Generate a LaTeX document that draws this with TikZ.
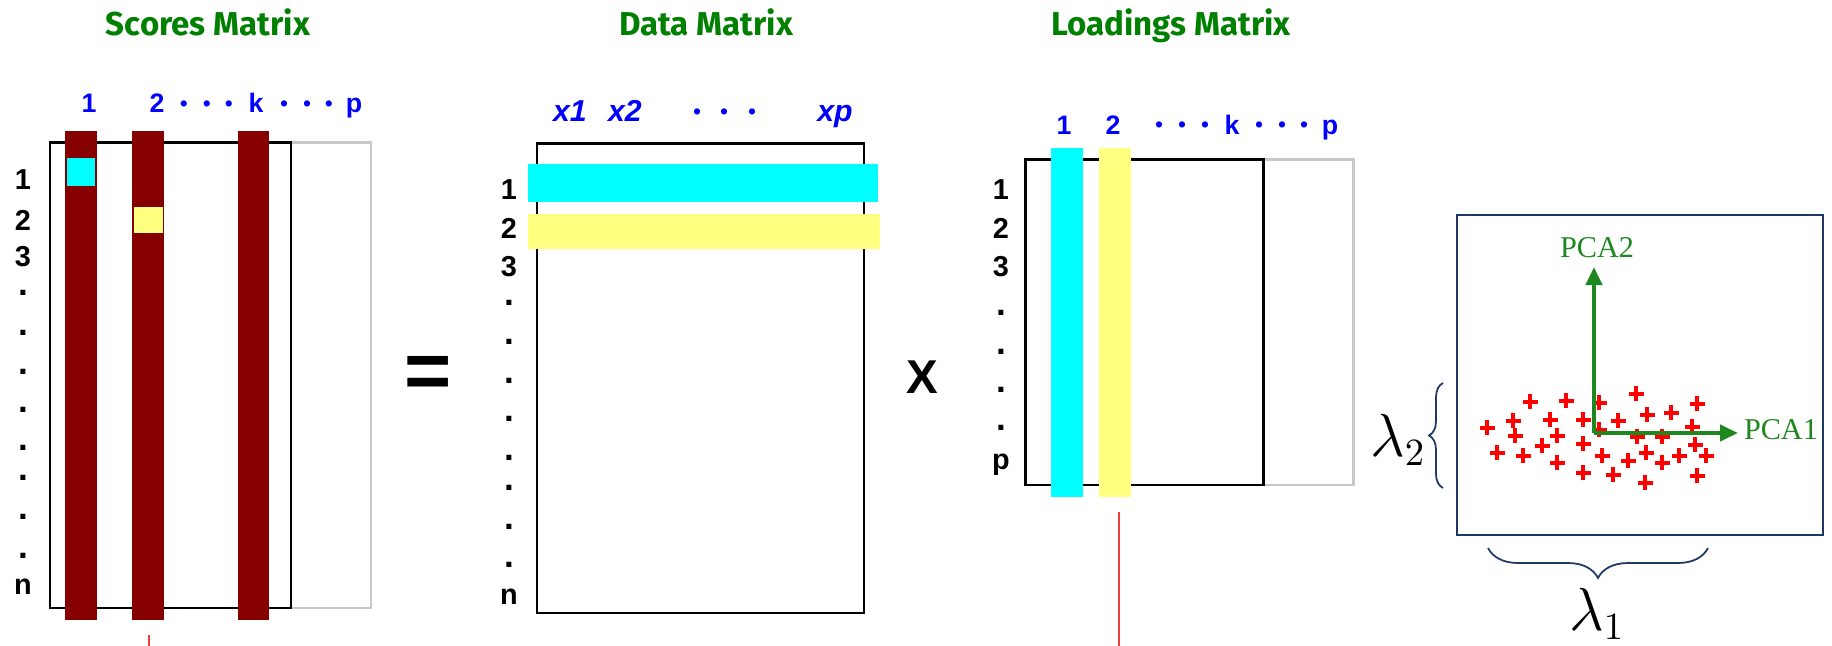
\documentclass[tikz,border=0pt]{standalone}
\usepackage{fontspec}
\setmainfont{Liberation Sans}
\newfontfamily\titlefont{Fira Sans}
\newfontfamily\pcafont{Liberation Serif}
\usetikzlibrary{arrows.meta,decorations.pathreplacing}
\definecolor{barred}{RGB}{134,0,0}
\definecolor{mycyan}{RGB}{0,255,255}
\definecolor{myyellow}{RGB}{255,255,128}
\definecolor{titlegreen}{RGB}{0,128,0}
\definecolor{pcagreen}{RGB}{30,135,30}
\definecolor{navy}{RGB}{31,56,100}
\definecolor{lgray}{RGB}{200,200,200}
\definecolor{linered}{RGB}{240,60,60}
\tikzset{
  titlelab/.style={anchor=base,text=titlegreen,font=\titlefont\bfseries\fontsize{9.4}{10}\selectfont},
  collab/.style={anchor=base,text=blue,font=\bfseries\fontsize{7.6}{8}\selectfont},
  xlab/.style={anchor=base,text=blue,font=\bfseries\itshape\fontsize{8.6}{9}\selectfont},
  bluedot/.style={text=blue,font=\fontsize{6.5}{7}\selectfont},
  rowlab/.style={font=\bfseries\fontsize{8.2}{9}\selectfont},
  rowdot/.style={font=\bfseries\fontsize{10}{10}\selectfont},
  matbox/.style={draw=black,line width=0.85pt},
  greybox/.style={draw=lgray,line width=0.85pt},
  pcaarrow/.style={draw=pcagreen,line width=1.15pt,-{Triangle[length=0.18cm,width=0.16cm]}},
  pcalab/.style={text=pcagreen,font=\pcafont\fontsize{8.6}{9}\selectfont},
  bracelab/.style={font=\fontsize{16}{18}\selectfont},
  navybrace/.style={draw=navy,line width=0.5pt,decorate},
  cross/.style={draw=red,line width=1.3pt},
  redline/.style={draw=linered,line width=0.5pt}
}
\begin{document}
\begin{tikzpicture}[x=0.01cm,y=-0.01cm,every node/.style={inner sep=0pt,outer sep=0pt}]
\useasboundingbox (0,0) rectangle (1832,646);

% ---------------- Scores matrix ----------------
\node[titlelab] (t-scores) at (208,36) {Scores Matrix};
\draw[greybox] (291,143) rectangle (371,608);
\draw[matbox] (50,143) rectangle (291,608);
\fill[barred] (65,131) rectangle (97,620);
\fill[barred] (132,131) rectangle (164,620);
\fill[barred] (238,131) rectangle (269,620);
\fill[mycyan] (67,158) rectangle (95,186);
\fill[myyellow] (134,207) rectangle (163,233);
\node[collab] (sc-c1) at (89,113) {1};
\node[collab] (sc-c2) at (157,113) {2};
\node[collab] (sc-ck) at (256,113) {k};
\node[collab] (sc-cp) at (354,113) {p};
\foreach \x [count=\i] in {184,207,229,284,307,329}
  \node[bluedot] (sc-d\i) at (\x,106) {•};
\node[rowlab] (sc-r1) at (23,180) {1};
\node[rowlab] (sc-r2) at (23,220) {2};
\node[rowlab] (sc-r3) at (23,257) {3};
\foreach \y [count=\i] in {293,333,372,410,448,478,517,556}
  \node[rowdot] (sc-rd\i) at (23,\y) {.};
\node[rowlab] (sc-rn) at (23,587) {n};
\coordinate (sc-l1) at (149,635);
\coordinate (sc-l2) at (149,646);
\draw[redline] (sc-l1) -- (sc-l2);

% ---------------- equals ----------------
\node[font=\bfseries\fontsize{23}{24}\selectfont] (eq) at (428,377) {=};

% ---------------- Data matrix ----------------
\node[titlelab] (t-data) at (706,36) {Data Matrix};
\draw[matbox] (537,144) rectangle (864,613);
\fill[mycyan] (528,164) rectangle (878,202);
\fill[myyellow] (528,214) rectangle (880,249);
\node[xlab] (da-x1) at (570,122) {x1};
\node[xlab] (da-x2) at (625,122) {x2};
\node[xlab] (da-xp) at (835,122) {xp};
\foreach \x [count=\i] in {697,724,752}
  \node[bluedot] (da-d\i) at (\x,114) {•};
\node[rowlab] (da-r1) at (509,190) {1};
\node[rowlab] (da-r2) at (509,228) {2};
\node[rowlab] (da-r3) at (509,267) {3};
\foreach \y [count=\i] in {303,342,381,419,458,488,527,565}
  \node[rowdot] (da-rd\i) at (509,\y) {.};
\node[rowlab] (da-rn) at (509,597) {n};

% ---------------- times ----------------
\node[font=\bfseries\fontsize{13.5}{14}\selectfont] (times) at (922,377) {X};

% ---------------- Loadings matrix ----------------
\node[titlelab] (t-load) at (1171,36) {Loadings Matrix};
\draw[greybox] (1263,160) rectangle (1353,485);
\draw[matbox] (1025,160) rectangle (1263,485);
\fill[mycyan] (1051,148) rectangle (1083,497);
\fill[myyellow] (1099,148) rectangle (1131,497);
\node[collab] (lo-c1) at (1064,135) {1};
\node[collab] (lo-c2) at (1113,135) {2};
\node[collab] (lo-ck) at (1232,135) {k};
\node[collab] (lo-cp) at (1330,135) {p};
\foreach \x [count=\i] in {1159,1182,1205,1259,1282,1304}
  \node[bluedot] (lo-d\i) at (\x,127) {•};
\node[rowlab] (lo-r1) at (1001,190) {1};
\node[rowlab] (lo-r2) at (1001,228) {2};
\node[rowlab] (lo-r3) at (1001,267) {3};
\foreach \y [count=\i] in {313,352,390,428}
  \node[rowdot] (lo-rd\i) at (1001,\y) {.};
\node[rowlab,anchor=base] (lo-rp) at (1001,470) {p};
\coordinate (lo-l1) at (1119,512);
\coordinate (lo-l2) at (1119,646);
\draw[redline] (lo-l1) -- (lo-l2);

% ---------------- PCA plot ----------------
\draw[navy,line width=0.6pt] (1457,215) rectangle (1823,535);
\foreach \x/\y in {1530/402,1566/401,1599/403,1636/394,1697/404,
  1487/428,1513/421,1550/420,1583/420,1618/421,1647/415,1671/413,1692/427,
  1515/436,1557/436,1599/430,1637/437,1662/437,1695/445,
  1497/453,1523/456,1542/446,1583/444,1602/456,1646/453,1679/456,1706/456,
  1557/463,1583/473,1613/475,1628/461,1662/463,1645/483,1697/476}
  \draw[cross] (\x-7.5,\y) -- (\x+7.5,\y) (\x,\y-7.5) -- (\x,\y+7.5);
\coordinate (origin) at (1594,433);
\coordinate (pca2tip) at (1594,267);
\coordinate (pca1tip) at (1738,433);
\draw[pcaarrow] (origin) -- (pca2tip);
\draw[pcaarrow] (origin) -- (pca1tip);
\node[pcalab] (pca2) at (1597,248) {PCA2};
\node[pcalab,anchor=west] (pca1) at (1744,430) {PCA1};
\coordinate (b2a) at (1443,488);
\coordinate (b2b) at (1443,383);
\draw[navybrace,decoration={brace,amplitude=0.14cm}] (b2a) -- (b2b);
\node[bracelab,anchor=east] (lam2) at (1426,440) {$\lambda_2$};
\coordinate (b1a) at (1708,548);
\coordinate (b1b) at (1488,548);
\draw[navybrace,decoration={brace,amplitude=0.3cm}] (b1a) -- (b1b);
\node[bracelab] (lam1) at (1597,614) {$\lambda_1$};
\end{tikzpicture}
\end{document}
